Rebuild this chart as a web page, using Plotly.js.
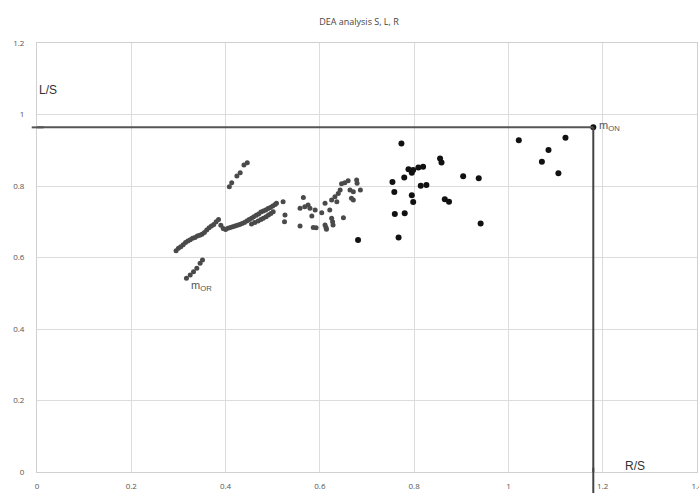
<!DOCTYPE html>
<html>
<head>
<meta charset="utf-8">
<script src="https://cdn.plot.ly/plotly-3.0.1.min.js"></script>
<style>
  html, body { margin: 0; padding: 0; background: #fff; }
  #chart { width: 699px; height: 493px; }
</style>
</head>
<body>
<div id="chart"></div>
<script>
// Ratios R/S and L/S for the observed units (dense group, grey)
const groupAX = [
  0.295,0.300,0.305,0.310,0.315,0.320,0.325,0.330,0.335,0.340,0.345,0.350,0.355,0.360,0.365,0.370,0.375,0.380,
  0.385,0.390,0.395,0.400,0.405,0.410,0.415,0.420,0.425,0.430,0.435,0.440,0.445,0.450,0.455,0.460,0.465,0.470,
  0.475,0.480,0.485,0.490,0.495,0.500,0.505,
  0.455,0.462,0.469,0.475,0.480,0.486,0.491,0.496,0.501,
  0.408,0.413,0.424,0.431,0.439,0.446,
  0.317,0.325,0.332,0.339,0.346,0.351,
  0.508,0.522,0.526,0.525,0.565,0.558,0.568,0.575,0.579,0.590,0.583,0.558,0.586,0.592,0.604,0.611,0.613,
  0.625,0.621,0.625,0.627,0.628,0.632,0.639,0.643,0.636,0.650,0.646,0.653,0.660,0.664,0.671,0.667,0.678,
  0.679,0.686,0.671,0.611,0.614
];
const groupAY = [
  0.619,0.626,0.630,0.636,0.642,0.646,0.650,0.654,0.656,0.660,0.662,0.665,0.670,0.677,0.683,0.688,0.692,0.700,
  0.706,0.690,0.681,0.678,0.682,0.684,0.686,0.688,0.690,0.692,0.695,0.698,0.702,0.706,0.710,0.714,0.718,0.722,
  0.727,0.730,0.733,0.737,0.740,0.744,0.748,
  0.694,0.698,0.702,0.706,0.710,0.714,0.719,0.723,0.728,
  0.798,0.809,0.828,0.837,0.859,0.865,
  0.542,0.551,0.560,0.570,0.584,0.593,
  0.752,0.756,0.719,0.700,0.768,0.738,0.742,0.747,0.738,0.733,0.716,0.688,0.684,0.683,0.725,0.752,0.684,
  0.761,0.733,0.710,0.700,0.691,0.770,0.779,0.789,0.756,0.711,0.806,0.809,0.815,0.789,0.784,0.766,0.817,
  0.808,0.789,0.761,0.691,0.679
];

// Ratios for the remaining units (black)
const groupBX = [
  0.681,0.754,0.758,0.759,0.767,0.773,0.779,0.780,0.788,0.795,0.798,0.809,0.819,0.795,0.798,0.814,0.826,
  0.855,0.858,0.865,0.874,0.904,0.937,0.941,1.022,1.071,1.085,1.106,1.121,1.180
];
const groupBY = [
  0.649,0.811,0.783,0.722,0.656,0.919,0.824,0.724,0.847,0.837,0.845,0.852,0.854,0.774,0.755,0.801,0.803,
  0.877,0.866,0.763,0.756,0.827,0.822,0.695,0.928,0.868,0.901,0.836,0.935,0.964
];

// Reference point and its projections
const refX = 1.18;
const refY = 0.964;

const xTicks = [0, 0.2, 0.4, 0.6, 0.8, 1, 1.2, 1.4];
const yTicks = [0, 0.2, 0.4, 0.6, 0.8, 1, 1.2];

const traces = [
  {
    x: groupAX, y: groupAY, type: 'scatter', mode: 'markers',
    marker: { color: '#4a4a4a', size: 5 },
    hoverinfo: 'x+y', cliponaxis: false
  },
  {
    x: groupBX, y: groupBY, type: 'scatter', mode: 'markers',
    marker: { color: '#111111', size: 6 },
    hoverinfo: 'x+y', cliponaxis: false
  }
];

const axisCommon = {
  showgrid: true, gridcolor: '#dcdcdc', gridwidth: 1,
  zeroline: false, showline: true, linecolor: '#d0d0d0', linewidth: 1, mirror: true,
  ticks: '', tickfont: { family: 'Open Sans, Arial, sans-serif', size: 8, color: '#555' },
  fixedrange: true
};

const layout = {
  width: 699, height: 493,
  margin: { l: 37, r: 2, t: 43, b: 21 },
  paper_bgcolor: '#ffffff', plot_bgcolor: '#ffffff',
  showlegend: false,
  title: {
    text: 'DEA analysis S, L, R',
    font: { family: 'Open Sans, Arial, sans-serif', size: 9, color: '#444' },
    x: 359 / 699, xref: 'container', xanchor: 'center',
    y: 1 - 22 / 493, yref: 'container', yanchor: 'middle'
  },
  xaxis: Object.assign({}, axisCommon, {
    range: [0, 1.4], tickvals: xTicks, ticktext: xTicks.map(String),
    ticklabelstandoff: 6, ticklabeloverflow: 'allow'
  }),
  yaxis: Object.assign({}, axisCommon, {
    range: [0, 1.2], tickvals: yTicks, ticktext: yTicks.map(String), ticklabelstandoff: 10
  }),
  shapes: [
    { type: 'line', xref: 'x', yref: 'y', x0: 0, x1: refX, y0: refY, y1: refY,
      line: { color: '#555', width: 2 } },
    { type: 'line', xref: 'paper', yref: 'y', x0: -0.008, x1: 0.01, y0: refY, y1: refY,
      line: { color: '#555', width: 2 } },
    { type: 'line', xref: 'x', yref: 'y', x0: refX, x1: refX, y0: 0, y1: refY,
      line: { color: '#444', width: 2 } },
    { type: 'line', xref: 'x', yref: 'paper', x0: refX, x1: refX, y0: -0.06, y1: 0.01,
      line: { color: '#444', width: 2 } }
  ],
  annotations: [
    { text: 'L/S', xref: 'x', yref: 'y', x: 0.0, y: 1.068, xanchor: 'left', yanchor: 'middle',
      showarrow: false, font: { family: 'Arial, Liberation Sans, sans-serif', size: 12, color: '#333' } },
    { text: 'R/S', xref: 'x', yref: 'y', x: 1.268, y: 0.016, xanchor: 'center', yanchor: 'middle',
      showarrow: false, font: { family: 'Arial, Liberation Sans, sans-serif', size: 12, color: '#333' } },
    { text: 'm<sub>ON</sub>', xref: 'x', yref: 'y', x: refX, y: refY, xanchor: 'left', yanchor: 'middle',
      xshift: 4, yshift: 1, showarrow: false,
      font: { family: 'Arial, Liberation Sans, sans-serif', size: 11, color: '#555' } },
    { text: 'm<sub>OR</sub>', xref: 'x', yref: 'y', x: 0.322, y: 0.52, xanchor: 'left', yanchor: 'middle',
      showarrow: false, font: { family: 'Arial, Liberation Sans, sans-serif', size: 11, color: '#555' } }
  ]
};

Plotly.newPlot('chart', traces, layout, { staticPlot: true, displayModeBar: false });
</script>
</body>
</html>
